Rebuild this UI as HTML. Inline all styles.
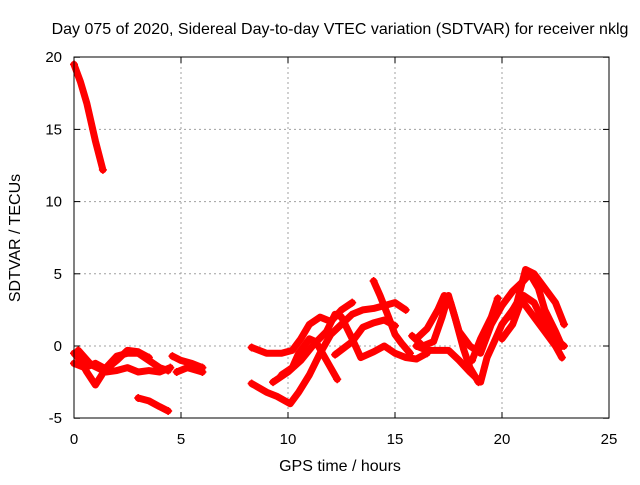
<!DOCTYPE html>
<html><head><meta charset="utf-8"><style>
body{margin:0;background:#fff}
svg text{font-family:"Liberation Sans",sans-serif;font-size:16px;fill:#000}
svg text.tk{font-size:15px}
</style></head><body>
<svg id="c" width="640" height="480">
<text x="340" y="34" text-anchor="middle">Day 075 of 2020, Sidereal Day-to-day VTEC variation (SDTVAR) for receiver nklg</text>
<text x="340" y="471" text-anchor="middle">GPS time / hours</text>
<text transform="translate(20,238) rotate(-90)" text-anchor="middle">SDTVAR / TECUs</text>
<g id="grid"></g><g id="ticks"></g><g id="series"></g>
<rect x="74" y="57" width="535" height="361" fill="none" stroke="#000"/>
</svg>
<script>
const xTicks=[0,5,10,15,20,25];
const yTicks=[-5,0,5,10,15,20];
const s0=[[0,19.5],[0.3,18.3],[0.6,16.8],[1.0,14.2],[1.35,12.2]];
const s1=[[0,-0.5],[0.3,-1],[0.6,-1.8],[1.0,-2.7],[1.3,-2],[1.5,-1.5],[2,-0.7],[2.5,-0.5],[3,-0.5],[3.5,-1],[4,-1.5],[4.4,-1.7]];
const s2=[[0,-1.2],[0.5,-1.5],[1,-1.2],[1.5,-1.6],[2,-1],[2.5,-0.3],[3,-0.4],[3.5,-0.8]];
const s3=[[0.2,-0.3],[0.8,-1.3],[1.5,-1.8],[2,-1.7],[2.5,-1.5],[3,-1.8],[3.5,-1.7],[4,-1.8],[4.5,-1.5]];
const s4=[[3,-3.6],[3.5,-3.8],[4,-4.2],[4.4,-4.5]];
const s5=[[4.6,-0.7],[5,-1],[5.5,-1.2],[6,-1.5]];
const s6=[[4.8,-1.8],[5.3,-1.5],[6,-1.8]];
const s7=[[8.3,-0.1],[9,-0.5],[9.7,-0.5],[10.2,-0.3],[10.6,0.5],[11,1.5],[11.5,2],[12,1.7],[12.5,2.5],[13,3]];
const s8=[[8.3,-2.6],[9,-3.2],[9.5,-3.5],[10.1,-4],[10.5,-3.2],[11,-2],[11.5,-0.5],[12,0.8],[12.5,1.5],[13,2.2],[13.5,2.5],[14,2.6],[14.5,2.8],[15,3],[15.5,2.5]];
const s9=[[9.7,-2],[10.2,-1.5],[10.5,-0.5],[11,0.5],[11.3,0.3],[11.8,-1],[12.3,-2.3]];
const s10=[[9.3,-2.5],[10,-1.8],[10.6,-1],[11.2,0.1],[11.8,1],[12.2,2.2],[12.5,2],[13,0.5],[13.4,-0.8],[14,-0.4],[14.5,0],[15,-0.5],[15.5,-0.8],[16,-0.9],[16.5,-0.5]];
const s11=[[14,4.5],[14.3,3.5],[14.7,2],[15,0.8],[15.3,0.2],[15.7,-0.5]];
const s12=[[12.2,-0.6],[13,0.3],[13.5,1.3],[14,1.6],[14.5,1.8],[15,1.4]];
const s13=[[16,0.5],[16.5,1.2],[17,2.5],[17.3,3.5],[17.6,3],[18,1],[18.5,0],[19,-0.5],[19.5,1.5],[20,2.8],[20.5,3.8],[21,4.5],[21.3,5],[21.7,4],[22,2.5],[22.5,1],[22.8,0]];
const s14=[[16,0],[16.5,-0.3],[17,-0.3],[17.5,-0.3],[18,-1],[18.5,-1.8],[19,-2.5],[19.3,-0.8],[19.7,0.5],[20,1.5],[20.5,2.5],[21,3],[21.5,2],[22,1],[22.5,0],[22.8,-0.8]];
const s15=[[15.8,0.7],[16.3,0],[16.8,0.3],[17.2,2],[17.5,3.5],[17.8,2],[18.2,-0.2],[18.5,-1.5],[18.9,-2.5]];
const s16=[[18.6,-1],[19,0.5],[19.5,2],[19.8,3.3]];
const s17=[[20.3,2],[20.7,3],[21.1,5.3],[21.5,5],[22,4],[22.5,3],[22.9,1.5]];
const s18=[[20,0.5],[20.5,1.5],[21,3.5],[21.5,3],[22,1.5],[22.5,0.5],[22.9,0]];
const series=[s0,s1,s2,s3,s4,s5,s6,s7,s8,s9,s10,s11,s12,s13,s14,s15,s16,s17,s18];
const NS='http://www.w3.org/2000/svg';
const X=h=>74+h*535/25, Y=v=>346-v*361/25;
const grid=document.getElementById('grid'),ticks=document.getElementById('ticks'),ser=document.getElementById('series');
function mk(tag,at,parent){const e=document.createElementNS(NS,tag);for(const k in at)e.setAttribute(k,at[k]);parent.appendChild(e);return e;}
xTicks.forEach(t=>{const x=X(t);
 if(t>0&&t<25){const g=mk('line',{x1:x,x2:x,y1:57,y2:418,stroke:'#a0a0a0','stroke-dasharray':'2,3'},grid);
 
 }
 mk('line',{x1:x,x2:x,y1:418,y2:412,stroke:'#000'},ticks);mk('line',{x1:x,x2:x,y1:57,y2:63,stroke:'#000'},ticks);
 const tx=mk('text',{x:x,y:444,'text-anchor':'middle','class':'tk'},ticks);tx.textContent=t;
 
 });
yTicks.forEach(t=>{const y=Y(t);
 if(t>-5&&t<20){const g=mk('line',{x1:74,x2:609,y1:y,y2:y,stroke:'#a0a0a0','stroke-dasharray':'2,3'},grid);
 
 }
 mk('line',{x1:74,x2:80,y1:y,y2:y,stroke:'#000'},ticks);mk('line',{x1:609,x2:603,y1:y,y2:y,stroke:'#000'},ticks);
 const tx=mk('text',{x:62,y:y+5,'text-anchor':'end','class':'tk'},ticks);tx.textContent=t;
 
 });
series.forEach((s,i)=>{
 const p=mk('polyline',{points:s.map(d=>X(d[0])+','+Y(d[1])).join(' '),fill:'none',stroke:'#f00','stroke-width':7,'stroke-linejoin':'round','stroke-linecap':'round'},ser);
 
 
 [s[0],s[s.length-1]].forEach(d=>{const x=X(d[0]),y=Y(d[1]);
  mk('path',{d:`M${x-4},${y}h8M${x},${y-4}v8`,stroke:'#f00','stroke-width':1.5},ser);});
});
</script>
</body></html>
